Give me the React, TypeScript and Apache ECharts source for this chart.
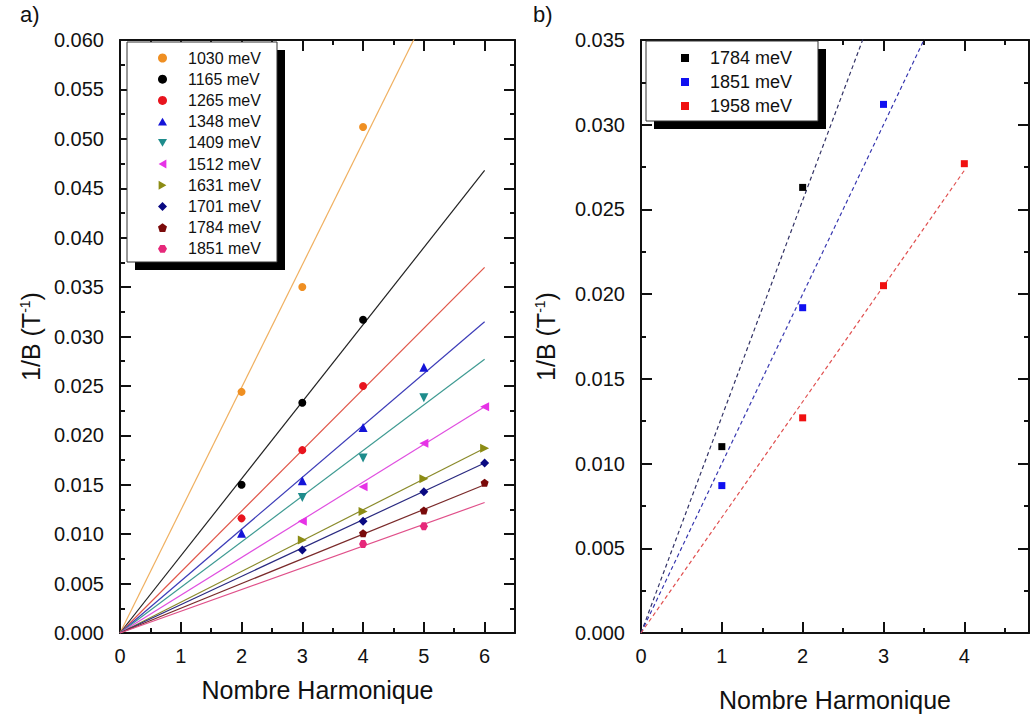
import React, { useEffect, useRef } from "react";
import * as echarts from "echarts";

// ---------- Panel a data ----------
const namesA = ["1030 meV", "1165 meV", "1265 meV", "1348 meV", "1409 meV", "1512 meV", "1631 meV", "1701 meV", "1784 meV", "1851 meV"];
const xA_1030 = [2, 3, 4];
const yA_1030 = [0.0244, 0.0350, 0.0512];
const xA_1165 = [2, 3, 4];
const yA_1165 = [0.0150, 0.0233, 0.0317];
const xA_1265 = [2, 3, 4];
const yA_1265 = [0.0116, 0.0185, 0.0250];
const xA_1348 = [2, 3, 4, 5];
const yA_1348 = [0.0101, 0.0154, 0.0208, 0.0269];
const xA_1409 = [3, 4, 5];
const yA_1409 = [0.0137, 0.0177, 0.0238];
const xA_1512 = [3, 4, 5, 6];
const yA_1512 = [0.0113, 0.0148, 0.0192, 0.0229];
const xA_1631 = [3, 4, 5, 6];
const yA_1631 = [0.0094, 0.0123, 0.0156, 0.0187];
const xA_1701 = [3, 4, 5, 6];
const yA_1701 = [0.0084, 0.0113, 0.0143, 0.0172];
const xA_1784 = [4, 5, 6];
const yA_1784 = [0.0101, 0.0124, 0.0152];
const xA_1851 = [4, 5];
const yA_1851 = [0.0090, 0.0108];
// linear fits through origin: value at x = 6
const fitXEndA = 6;
const fitEndA = [0.0745, 0.0468, 0.0370, 0.0315, 0.0277, 0.0229, 0.0187, 0.0172, 0.0150, 0.0132];

// ---------- Panel b data ----------
const namesB = ["1784 meV", "1851 meV", "1958 meV"];
const xB_1784 = [1, 2];
const yB_1784 = [0.0110, 0.0263];
const xB_1851 = [1, 2, 3];
const yB_1851 = [0.0087, 0.0192, 0.0312];
const xB_1958 = [2, 3, 4];
const yB_1958 = [0.0127, 0.0205, 0.0277];
const fitXEndB = [3, 4, 4];
const fitEndB = [0.0383, 0.0400, 0.0273];

// ---------- tick labels ----------
const xTicksA = [0, 1, 2, 3, 4, 5, 6];
const xTicksB = [0, 1, 2, 3, 4];

const FONT = "'Liberation Sans', Arial, Helvetica, sans-serif";
const INK = "#111";
const B_PREFIX = "b:";

const triUp = "path://M5,0 L10,8.66 L0,8.66 Z";
const triDown = "path://M0,0 L10,0 L5,8.66 Z";
const triLeft = "path://M0,5 L8.66,0 L8.66,10 Z";
const triRight = "path://M0,0 L8.66,5 L0,10 Z";
const pentagon = "path://M50,0 L97.6,34.5 L79.4,90.5 L20.6,90.5 L2.4,34.5 Z";
const hexagon = "path://M25,0 L75,0 L100,43.3 L75,86.6 L25,86.6 L0,43.3 Z";

const styleA = [
  { color: "#EF8F22", line: "#F0B060", symbol: "circle", size: 8 },
  { color: "#000000", line: "#222222", symbol: "circle", size: 8 },
  { color: "#E8141E", line: "#E05548", symbol: "circle", size: 8 },
  { color: "#1414D8", line: "#3C3CB8", symbol: triUp, size: 9 },
  { color: "#1E8C8C", line: "#3E9A92", symbol: triDown, size: 9 },
  { color: "#E632E6", line: "#E050E0", symbol: triLeft, size: 9 },
  { color: "#8C8C14", line: "#8A8A2A", symbol: triRight, size: 9 },
  { color: "#0A0A82", line: "#2A2A80", symbol: "diamond", size: 9 },
  { color: "#7A0A0A", line: "#7A2A2A", symbol: pentagon, size: 8 },
  { color: "#E6287A", line: "#E0508A", symbol: hexagon, size: 8 },
];
const styleB = [
  { color: "#000000", line: "#333366" },
  { color: "#1010F0", line: "#3838B0" },
  { color: "#F01010", line: "#E05050" },
];

function pairs(xs: number[], ys: number[]) {
  return xs.map((x, i) => [x, ys[i]]);
}

function makeAxes(kind: "x" | "y", grid: number, max: number, major: number, minor: number, opts: any) {
  const isX = kind === "x";
  const posMain = isX ? "bottom" : "left";
  const posOpp = isX ? "top" : "right";
  const base = {
    type: "value",
    gridIndex: grid,
    min: 0,
    max,
    splitLine: { show: false },
  };
  const line = { show: true, onZero: false, lineStyle: { color: INK, width: 2 } };
  const noLine = { show: false, onZero: false };
  const tickMajor = { show: true, inside: true, length: 11, lineStyle: { color: INK, width: 2 } };
  const tickMinor = { show: true, inside: true, length: 5, lineStyle: { color: INK, width: 2 } };
  return [
    {
      ...base,
      position: posMain,
      interval: major,
      axisLine: line,
      axisTick: tickMajor,
      axisLabel: {
        show: true,
        color: INK,
        fontSize: 20,
        fontFamily: FONT,
        margin: isX ? 13 : 16,
        formatter: opts.formatter,
      },
      name: opts.name,
      nameLocation: "middle",
      nameGap: opts.nameGap,
      nameRotate: isX ? 0 : 90,
      nameTextStyle: {
        color: INK,
        fontSize: 25,
        fontFamily: FONT,
        rich: {
          sup: { fontSize: 14, fontFamily: FONT, color: INK, verticalAlign: "top", padding: [0, 0, 12, 0] },
        },
      },
    },
    { ...base, position: posMain, interval: minor, axisLine: noLine, axisTick: tickMinor, axisLabel: { show: false } },
    { ...base, position: posOpp, interval: major, axisLine: line, axisTick: tickMajor, axisLabel: { show: false } },
    { ...base, position: posOpp, interval: minor, axisLine: noLine, axisTick: tickMinor, axisLabel: { show: false } },
  ];
}

export default function App() {
  const ref = useRef<HTMLDivElement>(null);

  useEffect(() => {
    if (!ref.current) return;
    const chart = echarts.init(ref.current, undefined, { renderer: "svg" });

    const dataA = [
      pairs(xA_1030, yA_1030),
      pairs(xA_1165, yA_1165),
      pairs(xA_1265, yA_1265),
      pairs(xA_1348, yA_1348),
      pairs(xA_1409, yA_1409),
      pairs(xA_1512, yA_1512),
      pairs(xA_1631, yA_1631),
      pairs(xA_1701, yA_1701),
      pairs(xA_1784, yA_1784),
      pairs(xA_1851, yA_1851),
    ];
    const dataB = [pairs(xB_1784, yB_1784), pairs(xB_1851, yB_1851), pairs(xB_1958, yB_1958)];

    const intLabel = (v: number) => (xTicksA.includes(v) || xTicksB.includes(v) ? String(v) : "");
    const yLabel = (v: number) => v.toFixed(3);

    const series: any[] = [];
    namesA.forEach((name, i) => {
      const s = styleA[i];
      series.push({
        type: "line",
        name: name + " fit",
        xAxisIndex: 0,
        yAxisIndex: 0,
        data: [
          [0, 0],
          [fitXEndA, fitEndA[i]],
        ],
        symbol: "none",
        showSymbol: false,
        silent: true,
        clip: true,
        lineStyle: { color: s.line, width: 1.2 },
        z: 2,
      });
    });
    namesA.forEach((name, i) => {
      const s = styleA[i];
      series.push({
        type: "scatter",
        name,
        xAxisIndex: 0,
        yAxisIndex: 0,
        data: dataA[i],
        symbol: s.symbol,
        symbolSize: s.size,
        itemStyle: { color: s.color, opacity: 1 },
        z: 3,
      });
    });
    namesB.forEach((name, i) => {
      const s = styleB[i];
      series.push({
        type: "line",
        name: B_PREFIX + name + " fit",
        xAxisIndex: 4,
        yAxisIndex: 4,
        data: [
          [0, 0],
          [fitXEndB[i], fitEndB[i]],
        ],
        symbol: "none",
        showSymbol: false,
        silent: true,
        clip: true,
        lineStyle: { color: s.line, width: 1.2, type: [4, 3] },
        z: 2,
      });
    });
    namesB.forEach((name, i) => {
      const s = styleB[i];
      series.push({
        type: "scatter",
        name: B_PREFIX + name,
        xAxisIndex: 4,
        yAxisIndex: 4,
        data: dataB[i],
        symbol: "rect",
        symbolSize: 7,
        itemStyle: { color: s.color, opacity: 1 },
        z: 3,
      });
    });

    const option: any = {
      animation: false,
      backgroundColor: "#ffffff",
      textStyle: { fontFamily: FONT },
      grid: [
        { left: 120, top: 40, width: 395, height: 593 },
        { left: 641, top: 40, width: 392, height: 593 },
      ],
      xAxis: [
        ...makeAxes("x", 0, 6.5, 1, 0.5, { formatter: intLabel, name: "Nombre Harmonique", nameGap: 44 }),
        ...makeAxes("x", 1, 4.8, 1, 0.5, { formatter: intLabel, name: "Nombre Harmonique", nameGap: 54 }),
      ],
      yAxis: [
        ...makeAxes("y", 0, 0.06, 0.005, 0.0025, { formatter: yLabel, name: "1/B (T{sup|-1})", nameGap: 76 }),
        ...makeAxes("y", 1, 0.035, 0.005, 0.0025, { formatter: yLabel, name: "1/B (T{sup|-1})", nameGap: 82 }),
      ],
      legend: [
        {
          data: namesA.map((n, i) => ({ name: n, icon: styleA[i].symbol })),
          orient: "vertical",
          left: 158,
          top: 50,
          padding: 0,
          itemWidth: 9,
          itemHeight: 9,
          itemGap: 5.2,
          selectedMode: false,
          textStyle: { fontSize: 16, fontFamily: FONT, color: INK, padding: [0, 0, 0, 16] },
          z: 10,
        },
        {
          data: namesB.map((n) => B_PREFIX + n),
          formatter: (n: string) => n.replace(B_PREFIX, ""),
          orient: "vertical",
          left: 681,
          top: 49,
          padding: 0,
          itemWidth: 8,
          itemHeight: 8,
          itemGap: 6,
          selectedMode: false,
          textStyle: { fontSize: 18, fontFamily: FONT, color: INK, padding: [0, 0, 0, 16] },
          z: 10,
        },
      ],
      graphic: [
        { type: "rect", z: 5, shape: { x: 135, y: 50, width: 150, height: 220 }, style: { fill: "#000" } },
        { type: "rect", z: 6, shape: { x: 127, y: 42, width: 150, height: 220 }, style: { fill: "#fff", stroke: "#333", lineWidth: 1 } },
        { type: "rect", z: 5, shape: { x: 654, y: 49, width: 172, height: 80 }, style: { fill: "#000" } },
        { type: "rect", z: 6, shape: { x: 646, y: 41, width: 172, height: 80 }, style: { fill: "#fff", stroke: "#333", lineWidth: 1 } },
        { type: "text", z: 6, left: 20, top: 3, style: { text: "a)", fontSize: 22, fontFamily: FONT, fill: INK } },
        { type: "text", z: 6, left: 533, top: 3, style: { text: "b)", fontSize: 22, fontFamily: FONT, fill: INK } },
      ],
      series,
    };

    chart.setOption(option);
    return () => chart.dispose();
  }, []);

  return (
    <div
      ref={ref}
      style={{ position: "fixed", left: 0, top: 0, width: 1032, height: 718, background: "#fff" }}
    />
  );
}
